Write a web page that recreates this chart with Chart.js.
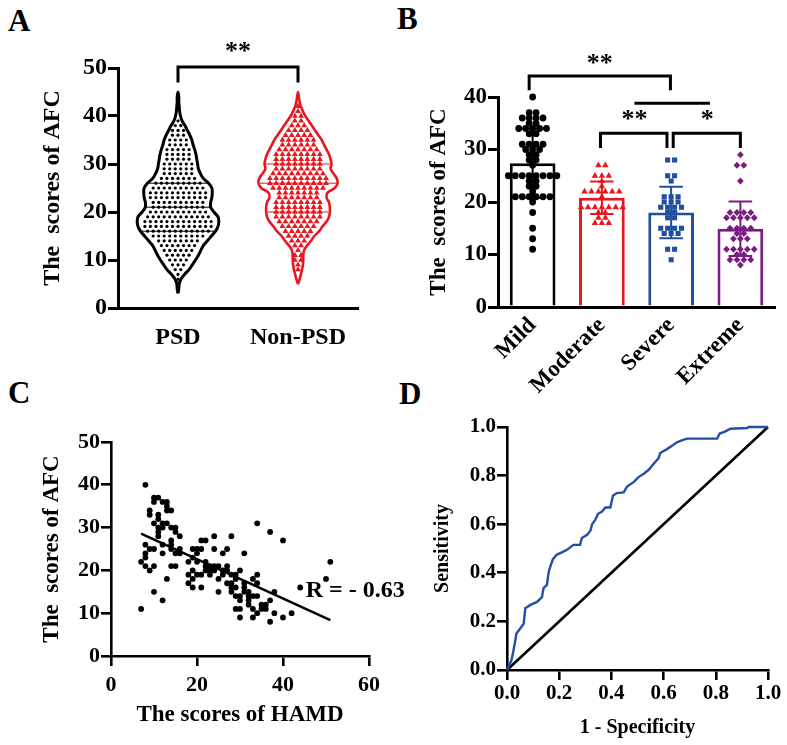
<!DOCTYPE html>
<html>
<head>
<meta charset="utf-8">
<script src="https://cdn.jsdelivr.net/npm/chart.js@4.4.0/dist/chart.umd.min.js"></script>
<style>
  body { margin: 0; background: #fff; width: 787px; height: 745px; position: relative; overflow: hidden; font-family: 'Liberation Serif', 'Times New Roman', serif; }
  canvas { position: absolute; }
  .tag { position: absolute; font-weight: bold; font-size: 31px; line-height: 1; }
</style>
</head>
<body>
<div class="tag" style="left:8px;top:5px">A</div>
<div class="tag" style="left:397px;top:3px">B</div>
<div class="tag" style="left:8px;top:377px">C</div>
<div class="tag" style="left:399px;top:378px">D</div>
<canvas id="chartA" width="390" height="370" style="left:0;top:0"></canvas>
<canvas id="chartB" width="397" height="400" style="left:390px;top:0"></canvas>
<canvas id="chartC" width="420" height="375" style="left:0;top:370px"></canvas>
<canvas id="chartD" width="387" height="375" style="left:400px;top:370px"></canvas>
<script>
// ---- panel A: violin plot ----
const groupsA = ['PSD', 'Non-PSD'];
const levelsA = [3, 4, 5, 6, 7, 8, 9, 10, 11, 12, 13, 14, 15, 16, 17, 18, 19, 20, 21, 22, 23, 24,
  25, 26, 27, 28, 29, 30, 31, 32, 33, 34, 35, 36, 37, 38, 39, 40, 41, 42, 43, 44, 45];
const densityPSD = [0, 0.02, 0.03, 0.07, 0.16, 0.27, 0.35, 0.43, 0.5, 0.56, 0.62, 0.72, 0.82, 0.92,
  0.98, 1.0, 0.98, 0.88, 0.8, 0.8, 0.83, 0.84, 0.83, 0.75, 0.62, 0.55, 0.5, 0.48, 0.46, 0.44, 0.41,
  0.37, 0.34, 0.29, 0.23, 0.17, 0.1, 0.06, 0.04, 0.03, 0.02, 0.02, 0];
const densityNonPSD = [0, 0, 0, 0.04, 0.07, 0.1, 0.12, 0.13, 0.13, 0.15, 0.22, 0.32, 0.4, 0.52, 0.6,
  0.7, 0.76, 0.78, 0.78, 0.76, 0.7, 0.72, 0.9, 0.97, 0.95, 0.87, 0.8, 0.82, 0.8, 0.76, 0.7, 0.64,
  0.58, 0.5, 0.42, 0.34, 0.26, 0.18, 0.12, 0.07, 0.04, 0.02, 0];
const quartilesPSD = [16, 21, 26];
const quartilesNonPSD = [20, 26, 30];
const scoresPSD = [6, 7, 8, 9, 10, 11, 12, 13, 14, 15, 16, 17, 18, 19, 20, 21, 22, 23, 24, 25, 26,
  27, 28, 29, 30, 31, 32, 33, 34, 35, 36, 37, 38, 39];
const countsPSD = [1, 1, 2, 3, 4, 5, 6, 7, 8, 10, 12, 13, 13, 12, 11, 10, 10, 11, 11, 10, 9, 7, 6,
  6, 6, 5, 5, 5, 4, 4, 3, 3, 2, 1];
const scoresNonPSD = [8, 9, 10, 11, 12, 13, 14, 15, 16, 17, 18, 19, 20, 21, 22, 23, 24, 25, 26, 27,
  28, 29, 30, 31, 32, 33, 34, 35, 36, 37, 38, 39, 40, 41, 42];
const countsNonPSD = [1, 1, 2, 2, 1, 2, 3, 4, 5, 6, 7, 8, 8, 8, 8, 7, 7, 9, 10, 10, 9, 8, 8, 8, 8,
  7, 6, 6, 5, 4, 3, 2, 2, 1, 1];

// ---- panel B: bars with points ----
const groupsB = ['Mild', 'Moderate', 'Severe', 'Extreme'];
const meansB = [27.4, 20.8, 18, 14.9];
const sdB = [6.6, 3.1, 4.9, 5.2];
const mildScores = [40, 37, 37, 36, 36, 36, 36, 35, 35, 34, 34, 34, 34, 34, 33, 33, 31, 31, 31, 31,
  30, 30, 30, 29, 29, 28, 28, 27, 25, 25, 25, 25, 25, 25, 25, 25, 24, 24, 23, 23, 22, 21, 21, 21,
  21, 21, 21, 20, 18, 15, 13, 11];
const moderateScores = [27, 27, 25, 25, 25, 24, 23, 22, 22, 22, 22, 22, 22, 21, 19, 19, 19, 19, 19,
  19, 19, 18, 18, 17, 17, 16, 16, 16];
const severeScores = [28, 28, 25, 25, 24, 21, 21, 21, 20, 20, 20, 19, 19, 19, 19, 18, 18, 17, 17,
  15, 15, 15, 15, 14, 14, 14, 11, 11, 9];
const extremeScores = [29, 27, 27, 24, 18, 18, 18, 18, 17, 17, 17, 17, 17, 15, 15, 15, 15, 14, 14,
  13, 13, 13, 11, 11, 11, 11, 11, 10, 10, 9, 9, 9, 9, 8];

// ---- panel C: HAMD vs AFC ----
const hamd = [8, 7, 7, 8, 8, 9, 10, 8, 9, 9, 10, 11, 10, 11, 10, 12, 11, 11, 12, 10, 10, 12, 13, 12,
  13, 13, 14, 14, 15, 15, 16, 14, 14, 15, 16, 14, 15, 18, 18, 19, 19, 19, 19, 20, 20, 21, 21, 22,
  21, 21, 22, 23, 24, 24, 23, 24, 25, 25, 26, 24, 26, 27, 28, 27, 27, 28, 28, 28, 29, 29, 29, 30,
  30, 29, 30, 30, 31, 31, 31, 32, 32, 32, 33, 34, 33, 34, 34, 34, 35, 36, 37, 37, 37, 38, 38, 40,
  40, 42, 44, 50, 51, 12, 13, 11, 11, 14, 9, 8, 20, 22, 23, 26, 27, 28, 30, 31, 32, 33, 35, 36, 33,
  34, 29, 25, 22, 20, 18, 19, 16, 13, 12];
const afc = [40, 11, 22, 23, 21, 20, 21, 26, 34, 33, 37, 37, 36, 33, 31, 31, 30, 28, 26, 25, 15, 13,
  18, 24, 36, 35, 34, 30, 30, 29, 28, 26, 25, 24, 25, 21, 21, 22, 19, 20, 18, 16, 25, 24, 22, 25,
  27, 27, 16, 19, 22, 20, 28, 25, 21, 20, 18, 15, 24, 21, 20, 25, 28, 21, 20, 16, 15, 19, 18, 16,
  14, 20, 13, 11, 11, 9, 24, 17, 15, 15, 13, 12, 9, 10, 18, 19, 17, 31, 12, 11, 13, 8, 29, 15, 10,
  27, 9, 10, 16, 18, 22, 36, 34, 32, 29, 27, 25, 24, 25, 21, 19, 19, 17, 17, 14, 16, 14, 11, 11,
  12, 14, 14, 19, 21, 20, 19, 17, 23, 24, 31, 30];
const fitHamd = [7, 51];
const fitAfc = [28.6, 8.4];

// ---- panel D: ROC ----
const fpr = [0, 0.017, 0.023, 0.03, 0.036, 0.05, 0.064, 0.07, 0.09, 0.115, 0.134, 0.14, 0.153, 0.16,
  0.166, 0.176, 0.19, 0.21, 0.23, 0.255, 0.28, 0.287, 0.307, 0.32, 0.326, 0.338, 0.349, 0.364, 0.377,
  0.396, 0.406, 0.42, 0.447, 0.46, 0.485, 0.504, 0.524, 0.543, 0.562, 0.581, 0.587, 0.613, 0.632,
  0.651, 0.677, 0.69, 0.805, 0.815, 0.837, 0.856, 0.92, 0.926, 1.0];
const tpr = [0, 0.04, 0.07, 0.11, 0.15, 0.17, 0.19, 0.254, 0.268, 0.28, 0.3, 0.337, 0.35, 0.405,
  0.426, 0.456, 0.474, 0.484, 0.495, 0.515, 0.515, 0.543, 0.556, 0.574, 0.6, 0.618, 0.643, 0.652,
  0.669, 0.669, 0.717, 0.728, 0.731, 0.755, 0.773, 0.794, 0.808, 0.824, 0.849, 0.872, 0.893, 0.909,
  0.923, 0.937, 0.948, 0.952, 0.952, 0.973, 0.982, 0.993, 0.996, 1.0, 1.0];

const SERIF = "'Liberation Serif', 'Times New Roman', serif";
Chart.defaults.font.family = SERIF;
Chart.defaults.font.weight = 'bold';
Chart.defaults.color = '#000';
const RED = '#e8161e', BLUE = '#1f4f9e', PURPLE = '#7b1c84', ROC_BLUE = '#2350a6';

// text marks (significance stars, R value) placed in data coordinates
const textMarks = {
  id: 'textMarks',
  afterDatasetsDraw(chart, args, opts) {
    const ctx = chart.ctx;
    const xs = chart.scales.x, ys = chart.scales.y;
    ctx.save();
    (opts.items || []).forEach(t => {
      ctx.font = 'bold ' + t.size + 'px ' + SERIF;
      ctx.fillStyle = '#000';
      ctx.textAlign = t.align || 'center';
      ctx.textBaseline = 'middle';
      ctx.fillText(t.text, xs.getPixelForValue(t.x), ys.getPixelForValue(t.y));
    });
    ctx.restore();
  }
};

function fixW(w) { return s => { s.width = w; }; }
function fixH(h) { return s => { s.height = h; }; }

function yAxis(min, max, step, size, title, titleSize, width, lw, fmt) {
  return {
    min: min, max: max, afterFit: fixW(width),
    border: { display: true, width: lw, color: '#000' },
    grid: { display: true, drawOnChartArea: false, drawTicks: true, tickLength: 10, lineWidth: lw, color: '#000' },
    ticks: { stepSize: step, padding: 1, font: { size: size }, callback: fmt || (v => v) },
    title: { display: true, text: title, font: { size: titleSize } }
  };
}

// x axis that puts one tick per group at 0, 1, 2 ...
function groupAxis(groups, height, size, padding, rotation) {
  return {
    type: 'linear', min: -0.5, max: groups.length - 0.5, offset: false, afterFit: fixH(height),
    afterBuildTicks: s => { s.ticks = groups.map((g, i) => ({ value: i })); },
    border: { display: true, width: 3, color: '#000' },
    grid: { display: false, drawTicks: false },
    ticks: { padding: padding, autoSkip: false, minRotation: rotation, maxRotation: rotation,
      font: { size: size }, callback: v => groups[v] }
  };
}

function violinOutline(center, dens, halfW) {
  let a = 0; while (a < dens.length - 1 && dens[a + 1] === 0) a++;
  let b = dens.length - 1; while (b > 0 && dens[b - 1] === 0) b--;
  const pts = [];
  for (let i = a; i <= b; i++) pts.push({ x: center + dens[i] * halfW, y: levelsA[i] });
  for (let i = b - 1; i >= a; i--) pts.push({ x: center - dens[i] * halfW, y: levelsA[i] });
  return pts;
}

function quartileLines(center, dens, halfW, qs) {
  const pts = [];
  qs.forEach(q => {
    const w = dens[levelsA.indexOf(q)] * halfW * 0.96;
    pts.push({ x: center - w, y: q }, { x: center + w, y: q }, { x: center, y: null });
  });
  return pts;
}

function spreadRows(center, levels, counts, step) {
  const pts = [];
  levels.forEach((v, i) => {
    const n = counts[i];
    for (let k = 0; k < n; k++) pts.push({ x: center + (k - (n - 1) / 2) * step, y: v });
  });
  return pts;
}

function spreadValues(center, values, step) {
  const rows = {};
  values.forEach(v => { (rows[v] = rows[v] || []).push(v); });
  const pts = [];
  Object.keys(rows).forEach(k => {
    const n = rows[k].length;
    for (let j = 0; j < n; j++) pts.push({ x: center + (j - (n - 1) / 2) * step, y: +k });
  });
  return pts;
}

function lineSet(data, color, width) {
  return { type: 'scatter', data: data, showLine: true, spanGaps: false,
    borderColor: color, borderWidth: width, pointRadius: 0, clip: false };
}

// ---------- A ----------
const halfA = 0.34;
new Chart(document.getElementById('chartA'), {
  type: 'scatter',
  data: {
    datasets: [
      Object.assign(lineSet(violinOutline(0, densityPSD, halfA), '#000', 3), { tension: 0.35 }),
      Object.assign(lineSet(violinOutline(1, densityNonPSD, halfA), RED, 2.6), { tension: 0.35 }),
      lineSet(quartileLines(0, densityPSD, halfA, quartilesPSD), '#000', 1),
      lineSet(quartileLines(1, densityNonPSD, halfA, quartilesNonPSD), RED, 1),
      lineSet([{ x: 0, y: 47 }, { x: 0, y: 50.2 }, { x: 1, y: 50.2 }, { x: 1, y: 47 }], '#000', 3),
      { data: spreadRows(0, scoresPSD, countsPSD, 0.046), pointRadius: 1.6,
        pointBackgroundColor: '#000', pointBorderWidth: 0 },
      { data: spreadRows(1, scoresNonPSD, countsNonPSD, 0.052), pointStyle: 'triangle',
        pointRadius: 3.4, pointBackgroundColor: RED, pointBorderColor: RED, pointBorderWidth: 0 }
    ]
  },
  options: {
    responsive: false, animation: false,
    layout: { padding: { left: 34, top: 68, right: 32, bottom: 0 } },
    plugins: { legend: { display: false }, tooltip: { enabled: false },
      textMarks: { items: [{ text: '**', x: 0.5, y: 53.2, size: 26 }] } },
    scales: {
      x: groupAxis(groupsA, 62, 24, 15, 0),
      y: yAxis(0, 50, 10, 24, 'The  scores of AFC', 24, 84, 3)
    }
  },
  plugins: [textMarks]
});

// ---------- B ----------
const colorsB = ['#000', RED, BLUE, PURPLE];
const capB = 0.17;
function errorBar(i) {
  const lo = meansB[i] - sdB[i], hi = meansB[i] + sdB[i];
  return lineSet([{ x: i, y: lo }, { x: i, y: hi }, { x: i, y: null },
    { x: i - capB, y: hi }, { x: i + capB, y: hi }, { x: i, y: null },
    { x: i - capB, y: lo }, { x: i + capB, y: lo }], colorsB[i], 2);
}
const pointSet = (i, vals, style, r) => ({
  type: 'scatter', data: spreadValues(i, vals, 0.1), clip: false,
  pointStyle: style, pointRadius: r, pointBackgroundColor: colorsB[i], pointBorderColor: colorsB[i], pointBorderWidth: 0
});
new Chart(document.getElementById('chartB'), {
  type: 'bar',
  data: {
    datasets: [
      errorBar(0), errorBar(1), errorBar(2), errorBar(3),
      lineSet([{ x: -0.05, y: 41.3 }, { x: -0.05, y: 44 }, { x: 1.99, y: 44 }, { x: 1.99, y: 41.3 }], '#000', 3),
      lineSet([{ x: 1.47, y: 38.8 }, { x: 2.56, y: 38.8 }], '#000', 3),
      lineSet([{ x: 0.98, y: 30.3 }, { x: 0.98, y: 33.1 }, { x: 1.94, y: 33.1 }, { x: 1.94, y: 30.3 }], '#000', 3),
      lineSet([{ x: 2.03, y: 30.3 }, { x: 2.03, y: 33.1 }, { x: 3.0, y: 33.1 }, { x: 3.0, y: 30.3 }], '#000', 3),
      pointSet(0, mildScores, 'circle', 3.4),
      pointSet(1, moderateScores, 'triangle', 3.8),
      pointSet(2, severeScores, 'rect', 3.6),
      pointSet(3, extremeScores, 'rectRot', 3.4),
      { type: 'bar', data: meansB.map((m, i) => ({ x: i, y: m })), backgroundColor: '#fff',
        borderColor: colorsB, borderWidth: 3, barPercentage: 0.66, categoryPercentage: 1 }
    ]
  },
  options: {
    responsive: false, animation: false,
    layout: { padding: { left: 31, top: 97, right: 12, bottom: 0 } },
    plugins: { legend: { display: false }, tooltip: { enabled: false },
      textMarks: { items: [
        { text: '**', x: 0.97, y: 46.2, size: 26 },
        { text: '**', x: 1.47, y: 35.5, size: 26 },
        { text: '*', x: 2.52, y: 35.5, size: 26 }
      ] } },
    scales: {
      x: groupAxis(groupsB, 93, 23, 5, 45),
      y: yAxis(0, 40, 10, 23, 'The  scores of AFC', 23, 77, 3)
    }
  },
  plugins: [textMarks]
});

// ---------- C ----------
new Chart(document.getElementById('chartC'), {
  type: 'scatter',
  data: {
    datasets: [
      lineSet(fitHamd.map((x, i) => ({ x: x, y: fitAfc[i] })), '#000', 2.5),
      { data: hamd.map((x, i) => ({ x: x, y: afc[i] })), pointRadius: 2.9,
        pointBackgroundColor: '#000', pointBorderWidth: 0, clip: false }
    ]
  },
  options: {
    responsive: false, animation: false,
    layout: { padding: { left: 34, top: 72, right: 51, bottom: 12 } },
    plugins: { legend: { display: false }, tooltip: { enabled: false },
      textMarks: { items: [{ text: 'R = - 0.63', x: 45.3, y: 15.3, size: 24, align: 'left' }] } },
    scales: {
      x: { type: 'linear', min: 0, max: 60, afterFit: fixH(77),
        border: { display: true, width: 2.6, color: '#000' },
        grid: { display: true, drawOnChartArea: false, drawTicks: true, tickLength: 10, lineWidth: 2.6, color: '#000' },
        ticks: { stepSize: 20, padding: 6, font: { size: 22 } },
        title: { display: true, text: 'The scores of HAMD', font: { size: 23 } } },
      y: yAxis(0, 50, 10, 22, 'The  scores of AFC', 23, 77, 2.6)
    }
  },
  plugins: [textMarks]
});

// ---------- D ----------
const oneDecimal = v => v.toFixed(1);
new Chart(document.getElementById('chartD'), {
  type: 'scatter',
  data: {
    datasets: [
      lineSet(fpr.map((x, i) => ({ x: x, y: tpr[i] })), ROC_BLUE, 2.4),
      lineSet([{ x: 0, y: 0 }, { x: 1, y: 1 }], '#000', 2.6)
    ]
  },
  options: {
    responsive: false, animation: false,
    layout: { padding: { left: 27, top: 57, right: 19, bottom: 1 } },
    plugins: { legend: { display: false }, tooltip: { enabled: false } },
    scales: {
      x: { type: 'linear', min: 0, max: 1, afterFit: fixH(74),
        border: { display: true, width: 2.6, color: '#000' },
        grid: { display: true, drawOnChartArea: false, drawTicks: true, tickLength: 10, lineWidth: 2.6, color: '#000' },
        ticks: { stepSize: 0.2, padding: 1, font: { size: 21 }, callback: oneDecimal },
        title: { display: true, text: '1 - Specificity', font: { size: 20 } } },
      y: yAxis(0, 1, 0.2, 21, 'Sensitivity', 20, 80, 2.6, oneDecimal)
    }
  }
});
</script>
</body>
</html>
